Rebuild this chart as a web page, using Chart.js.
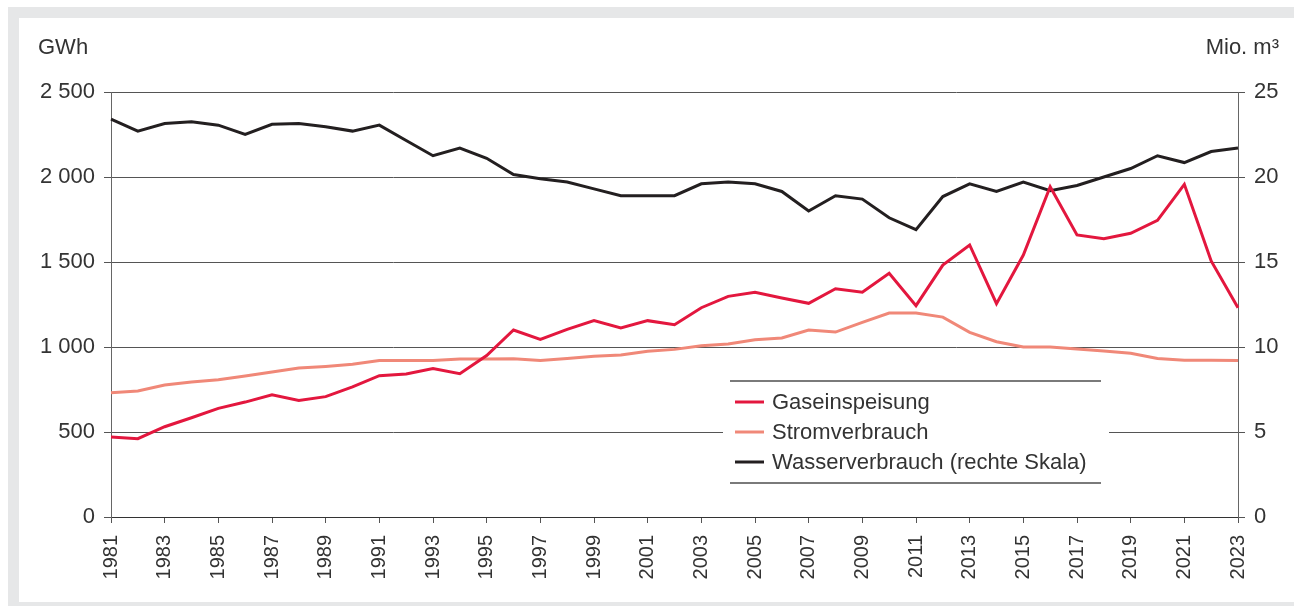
<!DOCTYPE html>
<html><head><meta charset="utf-8">
<script src="https://cdn.jsdelivr.net/npm/chart.js@4"></script>
<style>
html,body{margin:0;padding:0;background:#fff;width:1294px;height:606px;overflow:hidden;}
#frame{position:absolute;left:8px;top:7px;width:1286px;height:599px;background:#e6e7e8;}
#panel{position:absolute;left:19px;top:18px;width:1275px;height:584px;background:#fff;}
#c{position:absolute;left:0;top:0;}
</style></head>
<body>
<div id="frame"></div><div id="panel"></div>
<canvas id="c" width="1294" height="606"></canvas>
<script>
const years = [];
for (let y = 1981; y <= 2023; y++) years.push(String(y));

const gasLabel = 'Gaseinspeisung';
const stromLabel = 'Stromverbrauch';
const wasserLabel = 'Wasserverbrauch (rechte Skala)';
const leftUnit = 'GWh';
const rightUnit = 'Mio. m³';

// GWh
const gas = [470, 461, 531, 584, 639, 676, 719, 686, 708, 765, 831, 841, 874, 843, 950, 1100, 1045, 1104, 1155, 1112, 1155, 1131, 1231, 1298, 1322, 1288, 1257, 1343, 1322, 1433, 1243, 1482, 1600, 1255, 1541, 1943, 1659, 1637, 1669, 1745, 1957, 1506, 1231];
// GWh
const strom = [731, 741, 776, 794, 808, 829, 853, 876, 886, 898, 920, 920, 920, 929, 929, 931, 920, 932, 945, 953, 975, 986, 1008, 1018, 1043, 1053, 1100, 1088, 1145, 1200, 1200, 1176, 1086, 1031, 1000, 1000, 988, 976, 963, 933, 922, 922, 920];
// Mio. m3
const wasser = [23.4, 22.7, 23.15, 23.25, 23.05, 22.5, 23.1, 23.15, 22.95, 22.7, 23.05, 22.15, 21.25, 21.7, 21.1, 20.15, 19.9, 19.7, 19.3, 18.9, 18.9, 18.9, 19.6, 19.7, 19.6, 19.15, 18.0, 18.9, 18.7, 17.6, 16.9, 18.85, 19.6, 19.15, 19.7, 19.2, 19.5, 20.0, 20.5, 21.25, 20.85, 21.5, 21.7];

const colGas = '#e3173e';
const colStrom = '#f08878';
const colWasser = '#231f20';
const FONT = '"Liberation Sans", Arial, Helvetica, sans-serif';
const TXT = '#333';

function fmt(v){ return String(v).replace(/\B(?=(\d{3})+(?!\d))/g, ' '); }

const overlay = {
  id: 'overlay',
  afterDraw(chart){
    const ctx = chart.ctx;
    ctx.save();
    ctx.fillStyle = TXT;
    ctx.font = '22px ' + FONT;
    ctx.textBaseline = 'middle';
    ctx.textAlign = 'left';
    ctx.fillText(leftUnit, 38, 48);
    ctx.textAlign = 'right';
    ctx.fillText(rightUnit, 1279, 48);
    ctx.fillStyle = '#fff';
    ctx.fillRect(723, 378, 386, 108);
    ctx.strokeStyle = '#7a7a7a';
    ctx.lineWidth = 2;
    ctx.beginPath();
    ctx.moveTo(730, 381); ctx.lineTo(1101, 381);
    ctx.moveTo(730, 483); ctx.lineTo(1101, 483);
    ctx.stroke();
    const items = [[gasLabel, colGas], [stromLabel, colStrom], [wasserLabel, colWasser]];
    ctx.textAlign = 'left';
    items.forEach((it, i) => {
      const y = 402 + i * 30;
      ctx.strokeStyle = it[1];
      ctx.lineWidth = 3;
      ctx.beginPath(); ctx.moveTo(735, y); ctx.lineTo(764, y); ctx.stroke();
      ctx.fillStyle = TXT;
      ctx.fillText(it[0], 772, y + 1);
    });
    ctx.restore();
  }
};

new Chart(document.getElementById('c'), {
  type: 'line',
  data: {
    labels: years,
    datasets: [
      { label: gasLabel, data: gas, borderColor: colGas, borderWidth: 3, pointRadius: 0, tension: 0, yAxisID: 'y' },
      { label: stromLabel, data: strom, borderColor: colStrom, borderWidth: 3, pointRadius: 0, tension: 0, yAxisID: 'y' },
      { label: wasserLabel, data: wasser, borderColor: colWasser, borderWidth: 3, pointRadius: 0, tension: 0, yAxisID: 'y1' }
    ]
  },
  options: {
    responsive: false,
    animation: false,
    devicePixelRatio: 1,
    layout: { padding: { top: 92, left: 0, right: 0, bottom: 0 } },
    plugins: { legend: { display: false }, tooltip: { enabled: false } },
    scales: {
      x: {
        type: 'category',
        offset: false,
        grid: { drawOnChartArea: false, drawTicks: true, tickLength: 6,
                color: ctx => (ctx.index % 2 === 0 ? '#555' : 'rgba(0,0,0,0)') },
        border: { display: true, color: '#333', width: 1 },
        ticks: {
          autoSkip: false, minRotation: 90, maxRotation: 90, padding: 12,
          color: TXT, font: { family: FONT, size: 20 },
          callback: function(v, i){ return i % 2 === 0 ? this.getLabelForValue(v) : ''; }
        },
        afterFit: s => { s.height = 89; }
      },
      y: {
        position: 'left', min: 0, max: 2500,
        grid: { color: '#555', lineWidth: 1, tickLength: 7 },
        border: { display: true, color: '#666', width: 1 },
        ticks: { stepSize: 500, padding: 9, color: TXT, font: { family: FONT, size: 22 }, callback: v => fmt(v) },
        afterFit: s => { s.width = 111; }
      },
      y1: {
        position: 'right', min: 0, max: 25,
        grid: { drawOnChartArea: false, drawTicks: true, color: '#555', tickLength: 7 },
        border: { display: true, color: '#666', width: 1 },
        ticks: { stepSize: 5, padding: 9, color: TXT, font: { family: FONT, size: 22 } },
        afterFit: s => { s.width = 56; }
      }
    }
  },
  plugins: [overlay]
});
</script>
</body></html>
